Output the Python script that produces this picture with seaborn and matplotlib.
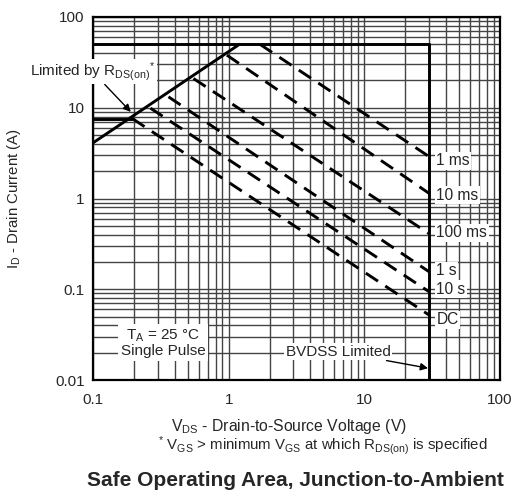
import numpy as np
import pandas as pd
import matplotlib
matplotlib.use("Agg")
import matplotlib.pyplot as plt
from matplotlib.ticker import LogLocator, NullFormatter
import seaborn as sns

# axis ticks
x_ticks = [0.1, 1, 10, 100]
x_tick_labels = ["0.1", "1", "10", "100"]
y_ticks = [0.01, 0.1, 1, 10, 100]
y_tick_labels = ["0.01", "0.1", "1", "10", "100"]

# solid limit lines
rds_v = [0.1, 1.2]
rds_i = [4.1, 50]
top_v = [0.1, 30]
top_i = [50, 50]
bv_v = [30, 30]
bv_i = [50, 0.01]
knee_v = [0.1, 0.195]
knee_i = [7.6, 7.6]

# pulse lines: start point on the limit, end point at 30 V
pulse_names = ["1 ms", "10 ms", "100 ms", "1 s", "10 s", "DC"]
pulse_v0 = [1.7, 0.97, 0.55, 0.36, 0.265, 0.195]
pulse_i0 = [50, 38, 21, 13.2, 9.9, 7.6]
pulse_v1 = [30, 30, 30, 30, 30, 30]
pulse_i1 = [2.9, 1.14, 0.41, 0.156, 0.094, 0.052]
label_i = [2.6, 1.09, 0.42, 0.16, 0.1, 0.046]

sns.set_style("white")
plt.rcParams['font.family'] = ['Liberation Sans', 'DejaVu Sans']
plt.rcParams['mathtext.fontset'] = 'custom'
plt.rcParams['mathtext.rm'] = 'Liberation Sans'
plt.rcParams['mathtext.it'] = 'Liberation Sans:italic'
plt.rcParams['mathtext.bf'] = 'Liberation Sans:bold'

fig = plt.figure(figsize=(5.23, 4.95), dpi=100)
ax = fig.add_axes([93 / 523, 1 - 380 / 495, 407 / 523, 363 / 495])
ax.set_xscale('log')
ax.set_yscale('log')
ax.set_xlim(0.1, 100)
ax.set_ylim(0.01, 100)

def draw(v, i, **kw):
    df = pd.DataFrame({'v': v, 'i': i})
    sns.lineplot(data=df, x='v', y='i', ax=ax, estimator=None, sort=False,
                 color='black', **kw)

for v, i in [(rds_v, rds_i), (top_v, top_i), (bv_v, bv_i), (knee_v, knee_i)]:
    draw(v, i, lw=2.1)

for n in range(len(pulse_names)):
    draw([pulse_v0[n], pulse_v1[n]], [pulse_i0[n], pulse_i1[n]],
         lw=2.1, ls=(0, (5, 3)))
    ax.text(34, label_i[n], pulse_names[n], fontsize=11.2, va='center', ha='left',
            bbox=dict(facecolor='white', edgecolor='none', pad=1.0))

# grid
ax.xaxis.set_minor_locator(LogLocator(base=10, subs=np.arange(2, 10)))
ax.yaxis.set_minor_locator(LogLocator(base=10, subs=np.arange(2, 10)))
ax.xaxis.set_minor_formatter(NullFormatter())
ax.yaxis.set_minor_formatter(NullFormatter())
ax.grid(which='both', color='#444444', lw=1.0)
ax.set_axisbelow(True)
ax.set_xticks(x_ticks, x_tick_labels)
ax.set_yticks(y_ticks, y_tick_labels)
ax.tick_params(which='both', length=0, labelsize=11)
ax.tick_params(axis='x', pad=9)
ax.tick_params(axis='y', pad=6)
for s in ax.spines.values():
    s.set_color('black')
    s.set_linewidth(1.6)

ax.set_xlabel('')
ax.set_ylabel(r'I$_{\mathregular{D}}$ - Drain Current (A)', fontsize=10.8)
ax.yaxis.set_label_coords(-0.173, 0.5)

# annotations
ax.annotate(r'Limited by R$_{\mathregular{DS(on)}}$$^{*}$', xy=(0.19, 9.0), xytext=(0.0343, 25),
            fontsize=11, va='center', ha='left', annotation_clip=False,
            bbox=dict(facecolor='white', edgecolor='none', pad=1.0),
            arrowprops=dict(arrowstyle='-|>', color='black', lw=1.0, shrinkA=0, shrinkB=0))
ax.text(0.328, 0.0256, 'T$_{\\mathregular{A}}$ = 25 °C\nSingle Pulse', fontsize=11,
        ha='center', va='center', linespacing=1.0,
        bbox=dict(facecolor='white', edgecolor='none', pad=2.0))
ax.annotate('BVDSS Limited', xy=(29.5, 0.0135), xytext=(6.4, 0.0205),
            fontsize=11, va='center', ha='center',
            bbox=dict(facecolor='white', edgecolor='none', pad=1.0),
            arrowprops=dict(arrowstyle='-|>', color='black', lw=1.0, shrinkA=2, shrinkB=0))

fig.text(289 / 523, 1 - 426 / 495, r'V$_{\mathregular{DS}}$ - Drain-to-Source Voltage (V)',
         fontsize=11.3, ha='center', va='center')
fig.text(323 / 523, 1 - 446 / 495,
         r'$^{*}$ V$_{\mathregular{GS}}$ > minimum V$_{\mathregular{GS}}$ at which R$_{\mathregular{DS(on)}}$ is specified',
         fontsize=10.8, ha='center', va='center')
fig.text(295 / 523, 1 - 481 / 495, 'Safe Operating Area, Junction-to-Ambient',
         fontsize=15, fontweight='bold', ha='center', va='center')

fig.savefig('out.png', dpi=100)
